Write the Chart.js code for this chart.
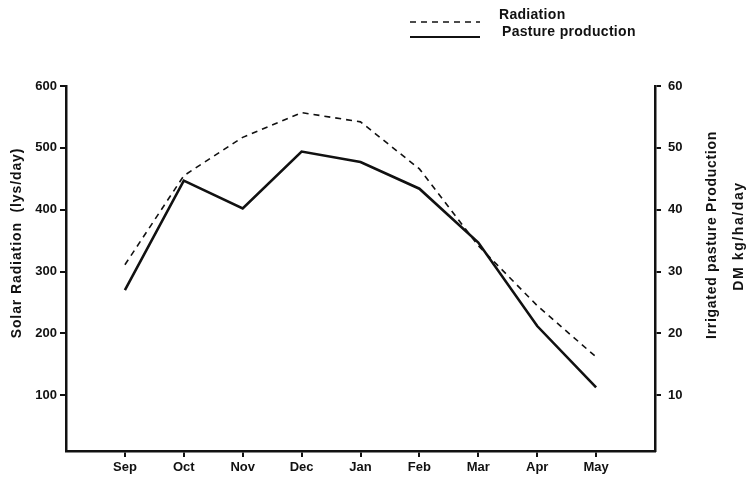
<!DOCTYPE html>
<html>
<head>
<meta charset="utf-8">
<script src="https://cdn.jsdelivr.net/npm/chart.js@4.4.1/dist/chart.umd.min.js"></script>
<style>
  html, body { margin: 0; padding: 0; background: #fff; }
  #wrap { width: 747px; height: 477px; }
</style>
</head>
<body>
<div id="wrap"><canvas id="chart"></canvas></div>
<script>
// data
const months = ['Sep', 'Oct', 'Nov', 'Dec', 'Jan', 'Feb', 'Mar', 'Apr', 'May'];
const radiation = [311, 455, 517, 557, 542, 466, 342, 245, 162];   // lys/day, left axis
const pasture = [27.0, 44.7, 40.2, 49.4, 47.7, 43.4, 34.7, 21.2, 11.3]; // kg/ha/day, right axis
const leftTicks = [100, 200, 300, 400, 500, 600];
const rightTicks = [10, 20, 30, 40, 50, 60];

// blank slot before Sep and after May
const labels = [''].concat(months, ['']);
const radData = [null].concat(radiation, [null]);
const pasData = [null].concat(pasture, [null]);

const FONT = "'Liberation Sans', Arial, sans-serif";
const INK = '#111';

// titles + legend drawn by hand (right title reads bottom-to-top like the left)
const decor = {
  id: 'decor',
  afterDraw(chart) {
    const ctx = chart.ctx;
    ctx.save();
    ctx.fillStyle = INK;
    ctx.strokeStyle = INK;
    ctx.textAlign = 'center';
    ctx.textBaseline = 'middle';

    function vtext(txt, x, y, size, spacing) {
      ctx.save();
      ctx.font = 'bold ' + size + 'px ' + FONT;
      ctx.letterSpacing = spacing + 'px';
      ctx.translate(x, y);
      ctx.rotate(-Math.PI / 2);
      ctx.fillText(txt, 0, 0);
      ctx.restore();
    }
    vtext('Solar Radiation  (lys/day)', 17, 243, 14, 0.9);
    vtext('Irrigated pasture Production', 712, 235, 14, 0.7);
    vtext('DM kg/ha/day', 739, 236, 14, 1.6);

    // legend
    ctx.textAlign = 'left';
    ctx.font = 'bold 14px ' + FONT;
    ctx.letterSpacing = '0.3px';
    ctx.lineWidth = 1.6;
    ctx.setLineDash([6, 5]);
    ctx.beginPath();
    ctx.moveTo(410, 22); ctx.lineTo(480, 22);
    ctx.stroke();
    ctx.setLineDash([]);
    ctx.lineWidth = 2.2;
    ctx.beginPath();
    ctx.moveTo(410, 37); ctx.lineTo(480, 37);
    ctx.stroke();
    ctx.fillText('Radiation', 499, 15);
    ctx.fillText('Pasture production', 502, 32);
    ctx.restore();
  }
};

const tickFont = { family: FONT, size: 13, weight: 'bold' };

new Chart(document.getElementById('chart'), {
  type: 'line',
  data: {
    labels: labels,
    datasets: [
      {
        label: 'Radiation',
        data: radData,
        yAxisID: 'y',
        borderColor: INK,
        borderWidth: 1.6,
        borderDash: [6, 5],
        pointRadius: 0,
        tension: 0,
        fill: false
      },
      {
        label: 'Pasture production',
        data: pasData,
        yAxisID: 'y1',
        borderColor: INK,
        borderWidth: 2.6,
        pointRadius: 0,
        tension: 0,
        fill: false
      }
    ]
  },
  options: {
    responsive: true,
    maintainAspectRatio: false,
    animation: false,
    layout: { padding: { top: 86, left: 0, right: 0, bottom: 0 } },
    plugins: {
      legend: { display: false },
      tooltip: { enabled: false }
    },
    scales: {
      x: {
        offset: false,
        afterBuildTicks: s => { s.ticks = s.ticks.filter(t => t.value >= 1 && t.value <= months.length); },
        afterFit: s => { s.height = 26; },
        border: { display: true, color: INK, width: 2.5 },
        grid: { display: true, drawOnChartArea: false, drawTicks: true, tickLength: 6, color: INK, lineWidth: 2 },
        ticks: { color: INK, font: tickFont, autoSkip: false, maxRotation: 0, padding: 3 }
      },
      y: {
        position: 'left',
        min: 10,
        max: 600,
        afterBuildTicks: s => { s.ticks = leftTicks.map(v => ({ value: v })); },
        afterFit: s => { s.width = 66; },
        border: { display: true, color: INK, width: 2.5 },
        grid: { display: true, drawOnChartArea: false, drawTicks: true, tickLength: 6, color: INK, lineWidth: 2 },
        ticks: { color: INK, font: tickFont, padding: 3 }
      },
      y1: {
        position: 'right',
        min: 1,
        max: 60,
        afterBuildTicks: s => { s.ticks = rightTicks.map(v => ({ value: v })); },
        afterFit: s => { s.width = 92; },
        border: { display: true, color: INK, width: 2.5 },
        grid: { display: true, drawOnChartArea: false, drawTicks: true, tickLength: 6, color: INK, lineWidth: 2 },
        ticks: { color: INK, font: tickFont, padding: 7 }
      }
    }
  },
  plugins: [decor]
});
</script>
</body>
</html>
